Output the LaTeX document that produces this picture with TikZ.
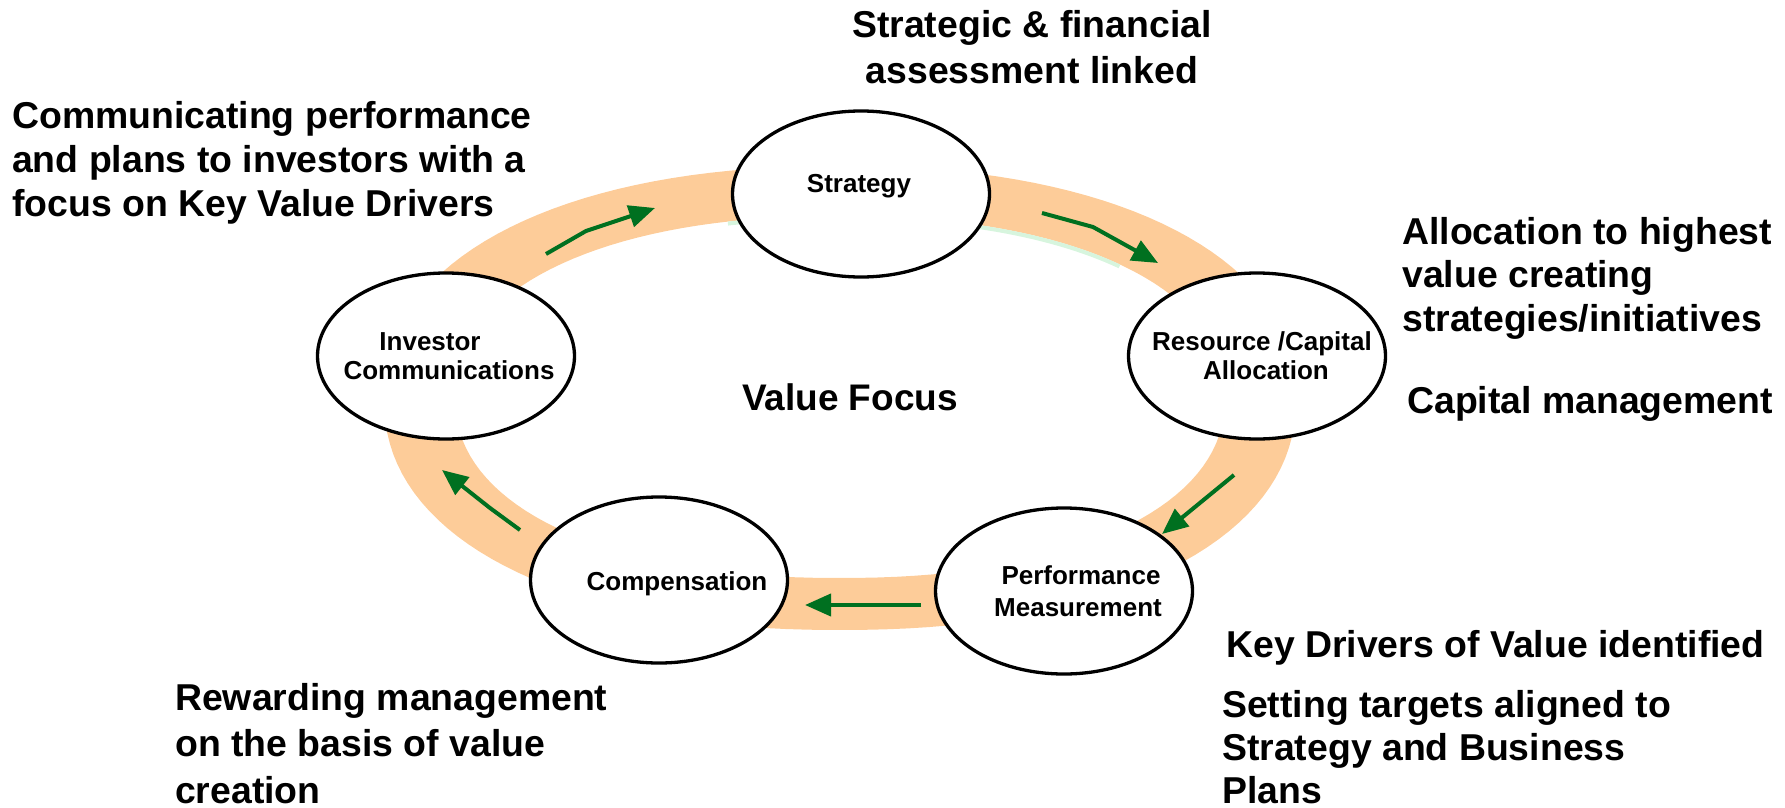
\documentclass[tikz,border=0pt]{standalone}
\usepackage{fontspec}
\setmainfont{Liberation Sans}
\usetikzlibrary{arrows.meta,shapes.geometric}

\definecolor{bandorange}{RGB}{253,204,153}
\definecolor{arrowgreen}{RGB}{0,112,32}
\definecolor{paleline}{RGB}{215,245,222}

% font helper: size and leading in pt, bold
\newcommand{\notefont}[2]{\fontsize{#1}{#2}\selectfont\bfseries}

\begin{document}
\begin{tikzpicture}[x=1pt,y=-1pt,
  bubble/.style={ellipse, draw=black, line width=3.3pt, fill=white,
    minimum width=257pt, minimum height=166pt, inner sep=0pt},
  btext/.style={font=\notefont{26}{30}, anchor=base, inner sep=0pt},
  note/.style={inner sep=0pt, align=left},
  flow/.style={draw=arrowgreen, line width=4pt, line join=round,
    -{Triangle[length=26pt,width=22pt]}},
]
\useasboundingbox (0,0) rectangle (1785,808);

% the cycle band: a rounded (super-elliptic) annulus
\fill[bandorange, even odd rule]
  plot[domain=0.5:360.5, samples=145, variable=\t]
    ({840+456*cos(\t)*pow(abs(cos(\t)),-0.0909)},
     {398+232*sin(\t)*pow(abs(sin(\t)),-0.0909)}) -- cycle
  plot[domain=0.5:360.5, samples=145, variable=\t]
    ({840+385*cos(\t)*pow(abs(cos(\t)),-0.0909)},
     {397+181*sin(\t)*pow(abs(sin(\t)),-0.0909)}) -- cycle;

% faint rim along the inner top edge
\draw[paleline, line width=4pt]
  plot[domain=255:315, samples=40, variable=\t]
    ({840+383*cos(\t)*pow(abs(cos(\t)),-0.0909)},
     {397+179*sin(\t)*pow(abs(sin(\t)),-0.0909)});

% arrow end points along the band
\coordinate (a1s) at (1042,213); \coordinate (a1m) at (1093,227); \coordinate (a1e) at (1158,263);
\coordinate (a2s) at (1234,475); \coordinate (a2e) at (1162,534);
\coordinate (a3s) at (921,605);  \coordinate (a3e) at (805,605);
\coordinate (a4s) at (520,530);  \coordinate (a4m) at (490,508); \coordinate (a4e) at (442,470);
\coordinate (a5s) at (546,254);  \coordinate (a5m) at (586,231); \coordinate (a5e) at (655,208);

\draw[flow] (a1s) -- (a1m) -- (a1e);
\draw[flow] (a2s) -- (a2e);
\draw[flow] (a3s) -- (a3e);
\draw[flow] (a4s) -- (a4m) -- (a4e);
\draw[flow] (a5s) -- (a5m) -- (a5e);

% the five stages
\node[bubble] (strat) at (861,194) {};
\node[bubble] (inv)   at (446,356) {};
\node[bubble] (res)   at (1257,356) {};
\node[bubble] (perf)  at (1064,591) {};
\node[bubble] (comp)  at (659,580) {};

\node[btext] (strat-t)  at (859,192)  {Strategy};
\node[btext] (inv-t1)   at (430,350)  {Investor};
\node[btext] (inv-t2)   at (449,379)  {Communications};
\node[btext] (res-t1)   at (1262,350) {Resource /Capital};
\node[btext] (res-t2)   at (1266,379) {Allocation};
\node[btext] (perf-t1)  at (1081,584) {Performance};
\node[btext] (perf-t2)  at (1078,616) {Measurement};
\node[btext] (comp-t)   at (677,590)  {Compensation};

% centre caption
\node[inner sep=0pt, anchor=base, font=\notefont{37}{44}] (focus) at (850,410) {Value Focus};

% surrounding notes
\node[note, anchor=north west, font=\notefont{37.4}{44}] (n-comm) at (12,101)
  {Communicating performance\\and plans to investors with a\\focus on Key Value Drivers};
\node[note, align=center, anchor=north, font=\notefont{37.4}{46}] (n-strat) at (1032,10)
  {Strategic \& financial\\assessment linked};
\node[note, anchor=north west, font=\notefont{37.4}{43.5}] (n-alloc) at (1402,217)
  {Allocation to highest\\value creating\\strategies/initiatives};
\node[inner sep=0pt, anchor=base west, font=\notefont{37.4}{44}] (n-cap) at (1407,413)
  {Capital management};
\node[inner sep=0pt, anchor=base west, font=\notefont{37.4}{44}] (n-key) at (1226,657)
  {Key Drivers of Value identified};
\node[note, anchor=north west, font=\notefont{37.4}{43}] (n-set) at (1222,690)
  {Setting targets aligned to\\Strategy and Business\\Plans};
\node[note, anchor=north west, font=\notefont{37.4}{46.5}] (n-rew) at (175,683)
  {Rewarding management\\on the basis of value\\creation};
\end{tikzpicture}
\end{document}
